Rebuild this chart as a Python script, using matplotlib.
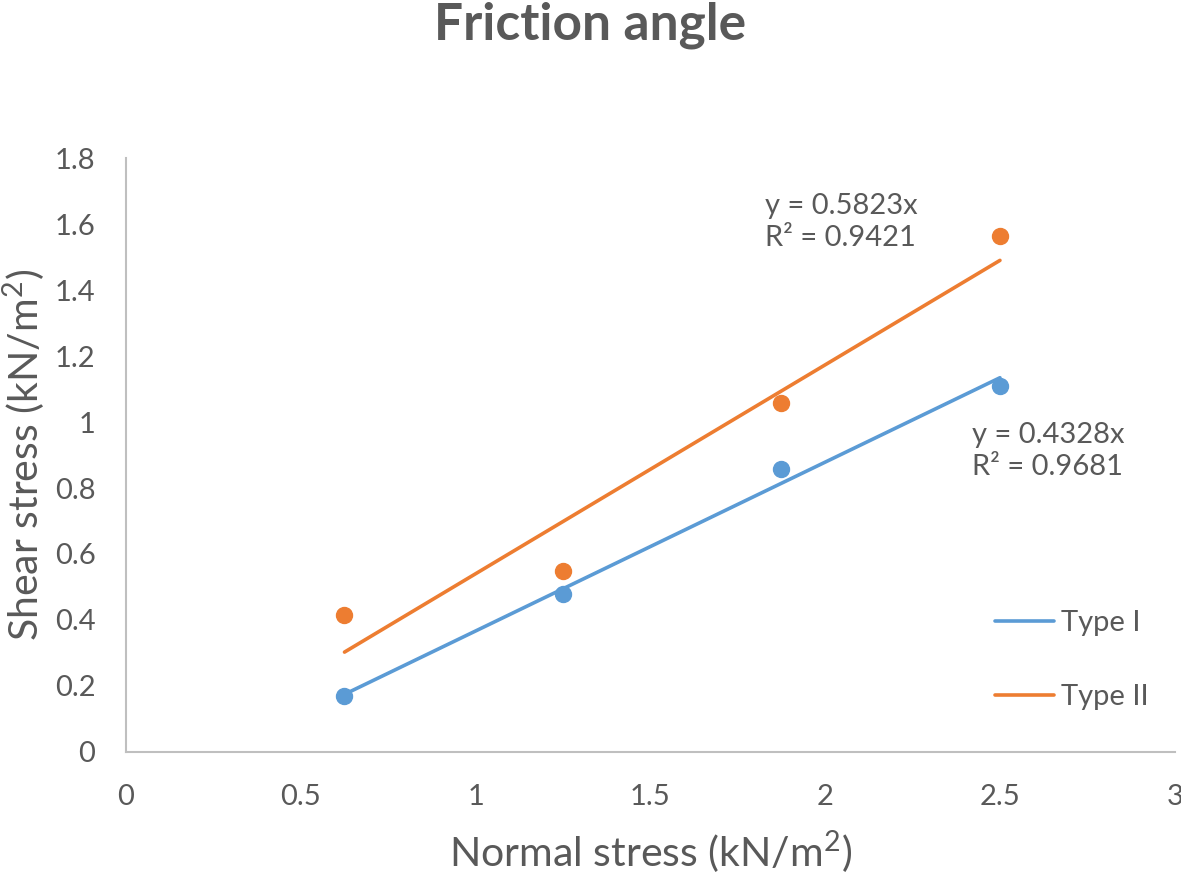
import numpy as np
import matplotlib.pyplot as plt
from matplotlib.ticker import FuncFormatter

# data
normal_stress = [0.625, 1.25, 1.875, 2.5]
shear_type1 = [0.17, 0.48, 0.858, 1.11]
shear_type2 = [0.415, 0.548, 1.058, 1.564]
eq_type1 = "y = 0.4328x\nR² = 0.9681"
eq_type2 = "y = 0.5823x\nR² = 0.9421"

blue = "#5B9BD5"
orange = "#ED7D31"
txt = "#595959"

plt.rcParams['font.family'] = ['Lato', 'DejaVu Sans']
plt.rcParams['mathtext.fontset'] = 'custom'
plt.rcParams['mathtext.rm'] = 'Lato'

fig = plt.figure(figsize=(11.81, 8.74), dpi=100)
ax = fig.add_axes([0.1067, 0.1396, 0.888, 0.6796])

x = np.array(normal_stress)
for ys, col, lab in [(shear_type1, blue, "Type I"), (shear_type2, orange, "Type II")]:
    ax.plot(x, ys, 'o', color=col, ms=11.5, zorder=3)
    # linear trendline like excel draws it
    k, b = np.polyfit(x, ys, 1)
    ax.plot(x, k * x + b, color=col, lw=2.6, label=lab, solid_capstyle='round')

ax.text(1.828, 1.695, eq_type2, fontsize=21, color=txt, ha='left', va='top', linespacing=1.3)
ax.text(2.42, 1.0, eq_type1, fontsize=21, color=txt, ha='left', va='top', linespacing=1.3)

ax.set_xlim(0, 3)
ax.set_ylim(0, 1.8)
ax.set_xticks(np.arange(0, 3.01, 0.5))
ax.set_yticks(np.arange(0, 1.81, 0.2))
fmt = FuncFormatter(lambda v, p: "%g" % round(v, 2))
ax.xaxis.set_major_formatter(fmt)
ax.yaxis.set_major_formatter(fmt)
ax.tick_params(length=0, labelsize=21, colors=txt)
ax.tick_params(axis='y', pad=22)
ax.tick_params(axis='x', pad=23)
for s in ['top', 'right']:
    ax.spines[s].set_visible(False)
for s in ['left', 'bottom']:
    ax.spines[s].set_color('#BFBFBF')
    ax.spines[s].set_linewidth(1.5)

ax.set_xlabel("Normal stress (kN/m$^2$)", fontsize=29.5, color=txt)
ax.set_ylabel("Shear stress (kN/m$^2$)", fontsize=29.5, color=txt)
ax.xaxis.set_label_coords(0.5, -0.129)
ax.yaxis.set_label_coords(-0.074, 0.5)
fig.suptitle("Friction angle", fontsize=37, fontweight='bold', color=txt, y=0.998)

leg = ax.legend(loc='upper left', bbox_to_anchor=(0.815, 0.263), frameon=False, borderpad=0,
                fontsize=21, labelspacing=1.65, handlelength=2.0, handletextpad=0.25)
for t in leg.get_texts():
    t.set_color(txt)

fig.savefig("out.png", dpi=100)
